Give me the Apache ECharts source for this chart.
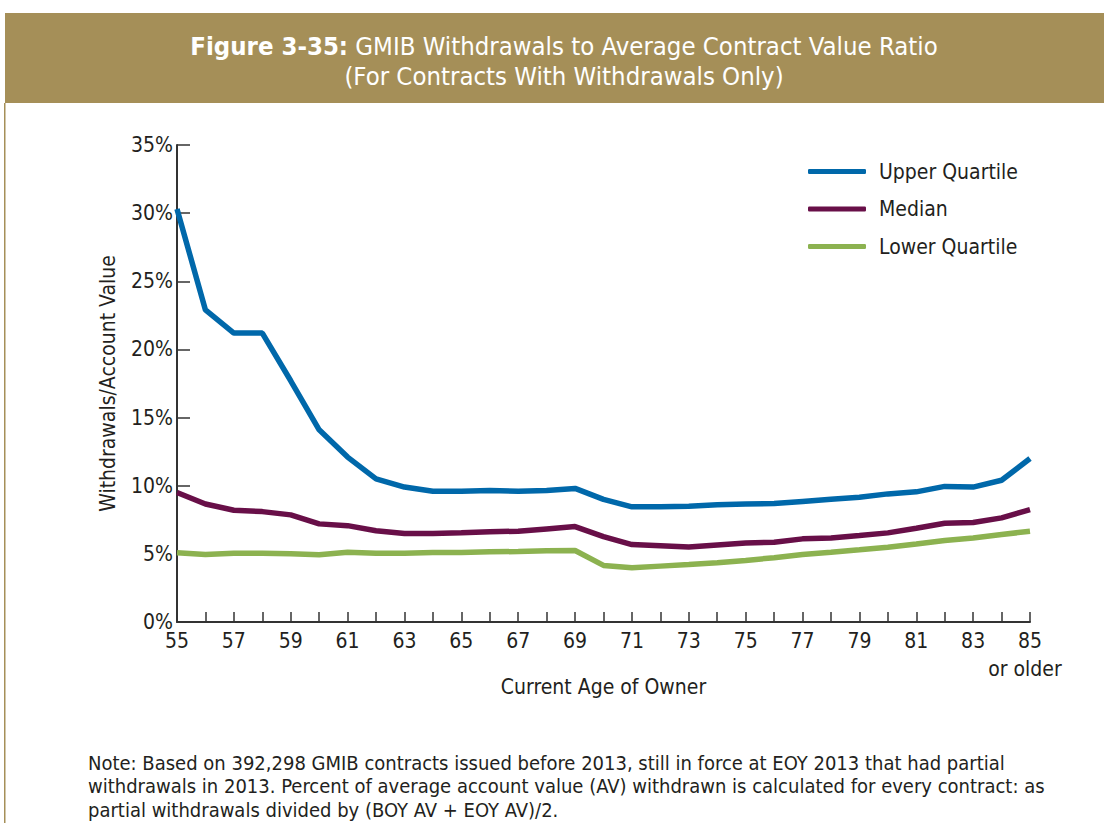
<!DOCTYPE html>
<html>
<head>
<meta charset="utf-8">
<script src="https://cdn.jsdelivr.net/npm/echarts@6/dist/echarts.min.js"></script>
<style>
html,body{margin:0;padding:0;background:#fff;}
#c{width:1104px;height:823px;}
</style>
</head>
<body>
<div id="c"></div>
<script>
const ages = ['55','56','57','58','59','60','61','62','63','64','65','66','67','68','69','70','71','72','73','74','75','76','77','78','79','80','81','82','83','84','85'];
const upperQuartile = [30.3,22.9,21.2,21.2,17.7,14.1,12.1,10.5,9.9,9.6,9.6,9.65,9.6,9.65,9.8,9.0,8.45,8.45,8.5,8.6,8.65,8.7,8.85,9.0,9.15,9.4,9.55,9.95,9.9,10.4,12.0];
const median = [9.5,8.66,8.2,8.1,7.86,7.2,7.07,6.7,6.5,6.5,6.55,6.63,6.66,6.83,7.0,6.27,5.68,5.6,5.5,5.65,5.8,5.85,6.1,6.17,6.34,6.54,6.88,7.24,7.3,7.64,8.24];
const lowerQuartile = [5.08,4.95,5.05,5.05,5.0,4.93,5.12,5.05,5.05,5.1,5.1,5.15,5.17,5.22,5.25,4.15,3.98,4.1,4.22,4.35,4.52,4.72,4.95,5.12,5.3,5.49,5.73,5.98,6.17,6.42,6.66];
const seriesNames = ['Upper Quartile','Median','Lower Quartile'];
const yTicks = [0,5,10,15,20,25,30,35];
const lastAgeNote = 'or older';
const titleLine1Bold = 'Figure 3-35:';
const titleLine1 = ' GMIB Withdrawals to Average Contract Value Ratio';
const titleLine2 = '(For Contracts With Withdrawals Only)';
const noteLines = [
  'Note: Based on 392,298 GMIB contracts issued before 2013, still in force at EOY 2013 that had partial',
  'withdrawals in 2013. Percent of average account value (AV) withdrawn is calculated for every contract: as',
  'partial withdrawals divided by (BOY AV + EOY AV)/2.'
];

const FONT = '"DejaVu Sans Condensed","DejaVu Sans",sans-serif';
const GOLD = '#A58F58';
const TXT = '#231f20';
const colors = ['#0068AA','#680F48','#8CB250'];

const chart = echarts.init(document.getElementById('c'), null, {renderer:'svg'});
chart.setOption({
  animation:false,
  textStyle:{fontFamily:FONT},
  graphic:[
    {type:'rect', shape:{x:5,y:13,width:1099,height:90}, style:{fill:GOLD}, silent:true},
    {type:'rect', shape:{x:4,y:103,width:1.5,height:720}, style:{fill:GOLD}, silent:true},
    {type:'text', x:564, y:46, style:{
      text:'{b|'+titleLine1Bold+'}{n|'+titleLine1+'}', align:'center', verticalAlign:'middle', fill:'#fff',
      rich:{b:{fontFamily:FONT,fontWeight:'bold',fontSize:25.5,fill:'#fff'},n:{fontFamily:FONT,fontSize:25.5,fill:'#fff'}}
    }},
    {type:'text', x:564, y:76, style:{text:titleLine2, align:'center', verticalAlign:'middle', fontFamily:FONT, fontSize:25.5, fill:'#fff'}},
    {type:'text', x:88, y:751, style:{text:noteLines.join('\n'), fontFamily:FONT, fontSize:20, lineHeight:23.5, fill:TXT}}
  ],
  legend:{
    orient:'vertical', left:803, top:156, itemWidth:58, itemHeight:5, itemGap:16.5,
    icon:'roundRect',
    textStyle:{fontFamily:FONT,fontSize:21,color:TXT,padding:[0,0,0,8]},
    data:seriesNames
  },
  grid:{left:177,right:74,top:145,bottom:201,containLabel:false},
  xAxis:{
    type:'category', data:ages, boundaryGap:false,
    name:'Current Age of Owner', nameLocation:'middle', nameGap:54, nameMoveOverlap:false,
    nameTextStyle:{fontFamily:FONT,fontSize:21,color:TXT},
    axisLine:{lineStyle:{color:'#333',width:2}},
    axisTick:{inside:true,length:10,interval:0,lineStyle:{color:'#333',width:1.5}},
    axisLabel:{interval:1, showMaxLabel:true, showMinLabel:true, hideOverlap:false,
      fontFamily:FONT, fontSize:21, color:TXT, margin:6, lineHeight:25,
      formatter:function(v,i){return i===ages.length-1 ? '{a|'+v+'}\n{b|'+lastAgeNote+'}' : v;},
      rich:{a:{fontFamily:FONT,fontSize:21,color:TXT,lineHeight:25},b:{fontFamily:FONT,fontSize:21,color:TXT,lineHeight:32,padding:[0,10,0,0]}}
    }
  },
  yAxis:{
    type:'value', min:0, max:35, interval:5,
    name:'Withdrawals/Account Value', nameLocation:'middle', nameGap:59, nameRotate:90, nameMoveOverlap:false,
    nameTextStyle:{fontFamily:FONT,fontSize:21,color:TXT},
    splitLine:{show:false},
    axisLine:{show:true,lineStyle:{color:'#333',width:2}},
    axisTick:{show:true,inside:true,length:13,lineStyle:{color:'#333',width:1.5}},
    axisLabel:{fontFamily:FONT,fontSize:21,color:TXT,margin:4,
      formatter:function(v){return yTicks.indexOf(v)>=0 ? v+'%' : '';}}
  },
  series:[
    {name:seriesNames[0],type:'line',data:upperQuartile,showSymbol:false,symbol:'none',lineStyle:{width:5.5,color:colors[0]},itemStyle:{color:colors[0]}},
    {name:seriesNames[1],type:'line',data:median,showSymbol:false,symbol:'none',lineStyle:{width:5.5,color:colors[1]},itemStyle:{color:colors[1]}},
    {name:seriesNames[2],type:'line',data:lowerQuartile,showSymbol:false,symbol:'none',lineStyle:{width:5.5,color:colors[2]},itemStyle:{color:colors[2]}}
  ]
});
</script>
</body>
</html>
